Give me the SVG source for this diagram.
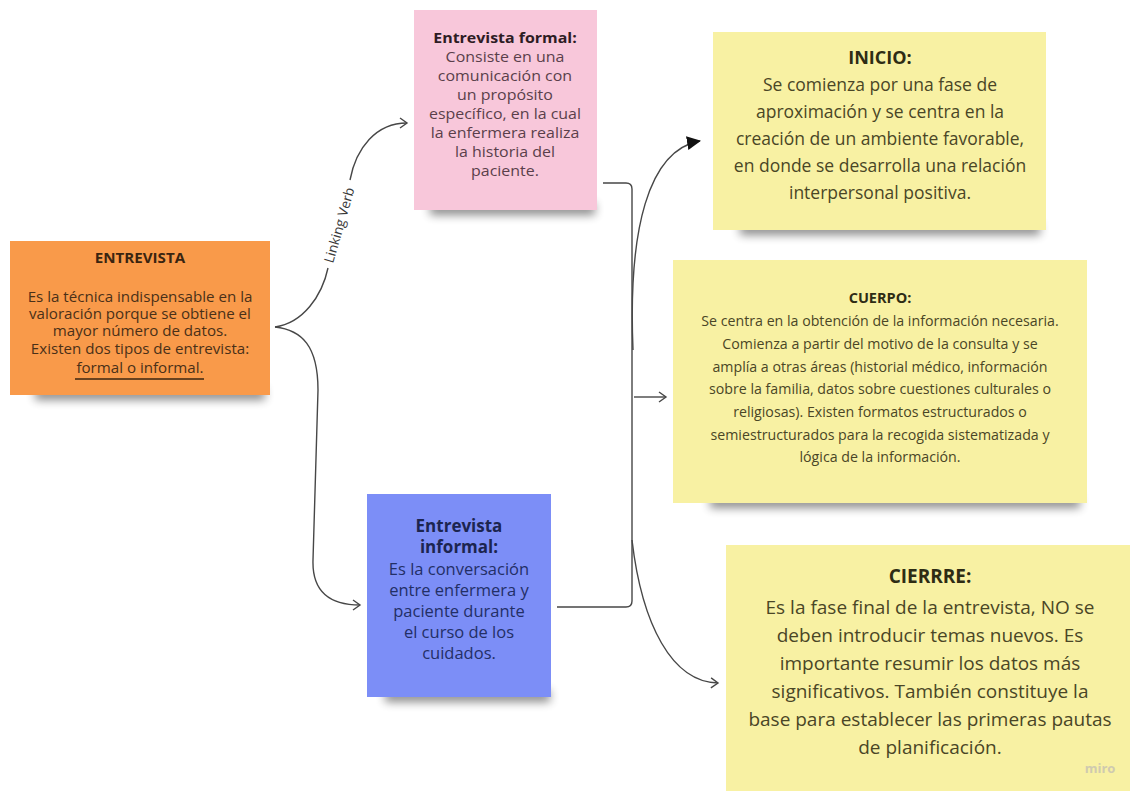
<svg xmlns="http://www.w3.org/2000/svg" width="1130" height="791" viewBox="0 0 1130 791">
<style>
text{font-family:"Open Sans","Noto Sans","DejaVu Sans",sans-serif;text-anchor:middle}
.b{font-weight:bold}
.conn{fill:none;stroke:#474747;stroke-width:1.4}
.shadow{fill:#000;opacity:.45;filter:url(#blur)}
</style>
<defs>
<filter id="blur" x="-20%" y="-200%" width="140%" height="500%"><feGaussianBlur stdDeviation="5"/></filter>
<marker id="open" markerUnits="userSpaceOnUse" markerWidth="14" markerHeight="14" refX="9" refY="6" orient="auto"><path d="M2,1 L9,6 L2,11" fill="none" stroke="#474747" stroke-width="1.4"/></marker>
<marker id="solid" markerUnits="userSpaceOnUse" markerWidth="16" markerHeight="16" refX="13" refY="7" orient="auto"><path d="M0,0 L14,7 L0,14 Z" fill="#111"/></marker>
</defs>
<rect width="1130" height="791" fill="#fff"/>

<g id="connectors">
<path class="conn" d="M275,327 C303,323 322,296 328,268"/>
<path class="conn" d="M350,180 C356,148 376,123 407,123" marker-end="url(#open)"/>
<path class="conn" d="M275,327 C302,330 318,346 318,390 L313,560 C312,592 330,605 360,605" marker-end="url(#open)"/>
<path class="conn" d="M603,183 L626,183 Q632,183 632,189 L632,601 Q632,607 626,607 L557,607"/>
<path class="conn" d="M634,397 L666,397" marker-end="url(#open)"/>
<path class="conn" d="M633,350 C628,230 648,150 700,141" marker-end="url(#solid)"/>
<path class="conn" d="M632,540 C642,625 672,682 718,683" marker-end="url(#open)"/>
<text x="339" y="230" transform="rotate(-74 339 225)" font-size="13.5" fill="#3a3a3a">Linking Verb</text>
</g>

<g id="entrevista">
<rect class="shadow" x="35" y="388" width="230" height="12"/>
<rect x="10" y="241" width="260" height="154" fill="#F99A4A"/>
<g transform="translate(140 0) scale(1.08 1) translate(-140 0)">
<text class="b" x="140" y="263" font-size="14" fill="#3a2410">ENTREVISTA</text>
<g font-size="14" fill="#4a3018">
<text x="140" y="302">Es la técnica indispensable en la</text>
<text x="140" y="319">valoración porque se obtiene el</text>
<text x="140" y="336">mayor número de datos.</text>
<text x="140" y="354">Existen dos tipos de entrevista:</text>
<text x="140" y="373">formal o informal.</text>
</g>
</g>
<line x1="75" y1="379" x2="204" y2="379" stroke="#3a2410" stroke-width="1.4"/>
</g>

<g id="formal">
<rect class="shadow" x="430" y="203" width="165" height="12"/>
<rect x="414" y="10" width="183" height="200" fill="#F8C7DA"/>
<g transform="translate(505 0) scale(1.14 1) translate(-505 0)">
<text class="b" x="505" y="43" font-size="14" fill="#2e1c24">Entrevista formal:</text>
<g font-size="14" fill="#5a3f4a">
<text x="505" y="62">Consiste en una</text>
<text x="505" y="81">comunicación con</text>
<text x="505" y="100">un propósito</text>
<text x="505" y="119">específico, en la cual</text>
<text x="505" y="138">la enfermera realiza</text>
<text x="505" y="157">la historia del</text>
<text x="505" y="176">paciente.</text>
</g>
</g>
</g>

<g id="informal">
<rect class="shadow" x="385" y="690" width="165" height="12"/>
<rect x="367" y="494" width="184" height="203" fill="#7C8EF7"/>
<g class="b" font-size="17" fill="#1c2550">
<text x="459" y="532">Entrevista</text>
<text x="459" y="553">informal:</text>
</g>
<g font-size="16.5" fill="#232f66">
<text x="459" y="575">Es la conversación</text>
<text x="459" y="596">entre enfermera y</text>
<text x="459" y="617">paciente durante</text>
<text x="459" y="638">el curso de los</text>
<text x="459" y="659">cuidados.</text>
</g>
</g>

<g id="inicio">
<rect class="shadow" x="740" y="223" width="300" height="12"/>
<rect x="713" y="32" width="333" height="198" fill="#F8F1A3"/>
<text class="b" x="880" y="64" font-size="18" fill="#2e2c14">INICIO:</text>
<g font-size="17.5" fill="#4a4626">
<text x="880" y="91">Se comienza por una fase de</text>
<text x="880" y="118">aproximación y se centra en la</text>
<text x="880" y="145">creación de un ambiente favorable,</text>
<text x="880" y="172">en donde se desarrolla una relación</text>
<text x="880" y="199">interpersonal positiva.</text>
</g>
</g>

<g id="cuerpo">
<rect class="shadow" x="710" y="496" width="370" height="12"/>
<rect x="673" y="260" width="414" height="243" fill="#F8F1A3"/>
<text class="b" x="880" y="303" font-size="14.5" fill="#2e2c14">CUERPO:</text>
<g font-size="14.2" fill="#4a4626">
<text x="880" y="326">Se centra en la obtención de la información necesaria.</text>
<text x="880" y="349">Comienza a partir del motivo de la consulta  y se</text>
<text x="880" y="372">amplía a otras áreas (historial médico, información</text>
<text x="880" y="394">sobre la familia, datos sobre cuestiones culturales o</text>
<text x="880" y="417">religiosas). Existen formatos estructurados o</text>
<text x="880" y="440">semiestructurados para la recogida sistematizada y</text>
<text x="880" y="462">lógica de la información.</text>
</g>
</g>

<g id="cierre">
<rect x="726" y="545" width="404" height="246" fill="#F8F1A3"/>
<text class="b" x="930" y="583" font-size="19" fill="#2e2c14">CIERRRE:</text>
<g font-size="19" fill="#4a4626">
<text x="930" y="614">Es la fase final de la entrevista, NO se</text>
<text x="930" y="642">deben introducir temas nuevos. Es</text>
<text x="930" y="670">importante resumir los datos más</text>
<text x="930" y="698">significativos. También constituye la</text>
<text x="930" y="726">base para establecer las primeras pautas</text>
<text x="930" y="754">de planificación.</text>
</g>
<text class="b" x="1100" y="773" font-size="13" fill="#cfcab0">miro</text>
</g>
</svg>
